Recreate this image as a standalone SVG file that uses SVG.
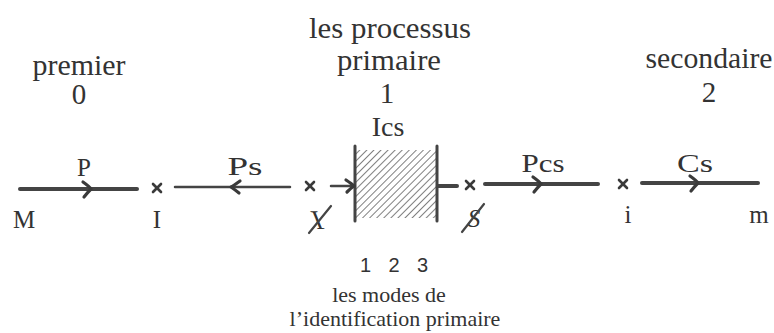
<svg xmlns="http://www.w3.org/2000/svg" width="774" height="333" viewBox="0 0 774 333">
<defs>
<style>
.t{font-family:"Liberation Serif","Times New Roman",serif;fill:#333;text-anchor:middle}
.h{font-size:29px}
.l{font-size:25px}
.s{font-family:"Liberation Sans",Arial,sans-serif;fill:#333;text-anchor:middle;font-size:20px}
.b{font-size:22px}
.ln{stroke:#444;fill:none;stroke-linecap:round}
.thick{stroke-width:4}
.thin{stroke-width:2.5}
.hd{stroke:#3a3a3a;fill:none;stroke-width:3.2;stroke-linecap:round;stroke-linejoin:round}
.x{stroke:#3a3a3a;stroke-width:2.6;stroke-linecap:round}
</style>
<pattern id="hatch" patternUnits="userSpaceOnUse" width="5" height="5" patternTransform="rotate(45)">
<line x1="0" y1="0" x2="0" y2="5" stroke="#555" stroke-width="1.5"/>
</pattern>
</defs>
<rect width="774" height="333" fill="#fff"/>

<g id="headings">
<text class="t h" x="390" y="38" textLength="162" lengthAdjust="spacingAndGlyphs">les processus</text>
<text class="t h" x="79" y="75" textLength="93" lengthAdjust="spacingAndGlyphs">premier</text>
<text class="t h" x="389" y="70" textLength="104" lengthAdjust="spacingAndGlyphs">primaire</text>
<text class="t h" x="709" y="68" textLength="127" lengthAdjust="spacingAndGlyphs">secondaire</text>
<text class="t h" x="79" y="104">0</text>
<text class="t h" x="387" y="103">1</text>
<text class="t h" x="709" y="102">2</text>
</g>

<g id="node-M">
<text class="t l" x="24" y="228">M</text>
</g>
<g id="node-I">
<line class="x" x1="153" y1="184" x2="161" y2="192"/><line class="x" x1="161" y1="184" x2="153" y2="192"/>
<text class="t l" x="157" y="228">I</text>
</g>
<g id="node-barred-I">
<line class="x" x1="306" y1="182" x2="314" y2="190"/><line class="x" x1="314" y1="182" x2="306" y2="190"/>
<text class="t" x="0" y="0" font-size="27" font-style="italic" transform="translate(322 229) skewX(30)">I</text>
<line class="ln" x1="331" y1="206" x2="309" y2="233" stroke-width="2.2"/>
</g>
<g id="node-Ics">
<text class="t" x="388" y="136" font-size="28">Ics</text>
<rect x="356" y="150" width="80" height="68" fill="url(#hatch)"/>
<line class="ln" x1="355" y1="146" x2="355" y2="221" stroke-width="3"/>
<line class="ln" x1="437" y1="146" x2="437" y2="221" stroke-width="3"/>
</g>
<g id="node-barred-S">
<line class="x" x1="466" y1="181" x2="474" y2="189"/><line class="x" x1="474" y1="181" x2="466" y2="189"/>
<text class="t l" x="474" y="227" font-style="italic">S</text>
<line class="ln" x1="484" y1="204" x2="462" y2="232" stroke-width="2.2"/>
</g>
<g id="node-i">
<line class="x" x1="619" y1="180" x2="627" y2="188"/><line class="x" x1="627" y1="180" x2="619" y2="188"/>
<text class="t l" x="628" y="223">i</text>
</g>
<g id="node-m">
<text class="t l" x="759" y="223">m</text>
</g>

<g id="connectors">
<line class="ln thick" x1="20" y1="189" x2="137" y2="189"/>
<path class="hd" d="M83 182 Q90 187 91 189 Q88 192 84 197"/>
<text class="t l" x="84" y="176">P</text>

<line class="ln thin" x1="175" y1="187" x2="290" y2="187"/>
<path class="hd" d="M240 181 Q233 186 231 187 Q234 189 239 193"/>
<text class="t l" x="245" y="175" textLength="35" lengthAdjust="spacingAndGlyphs">Ps</text>

<line class="ln thin" x1="331" y1="186" x2="354" y2="186"/>
<path class="hd" d="M346 180 Q352 184 354 186 Q351 188 347 192"/>

<line class="ln thick" x1="438" y1="186" x2="457" y2="186"/>

<line class="ln thick" x1="485" y1="184" x2="598" y2="184"/>
<path class="hd" d="M533 177 Q540 182 541 184 Q538 187 534 192"/>
<text class="t l" x="543" y="172" textLength="43" lengthAdjust="spacingAndGlyphs">Pcs</text>

<line class="ln thick" x1="642" y1="183" x2="758" y2="183"/>
<path class="hd" d="M690 176 Q697 181 698 183 Q695 186 691 191"/>
<text class="t l" x="695" y="172" textLength="36" lengthAdjust="spacingAndGlyphs">Cs</text>
</g>

<g id="modes">
<text class="s" x="394" y="272" textLength="68" lengthAdjust="spacing">1 2 3</text>
<text class="t b" x="389" y="302">les modes de</text>
<text class="t b" x="395" y="326">l’identification primaire</text>
</g>
</svg>
